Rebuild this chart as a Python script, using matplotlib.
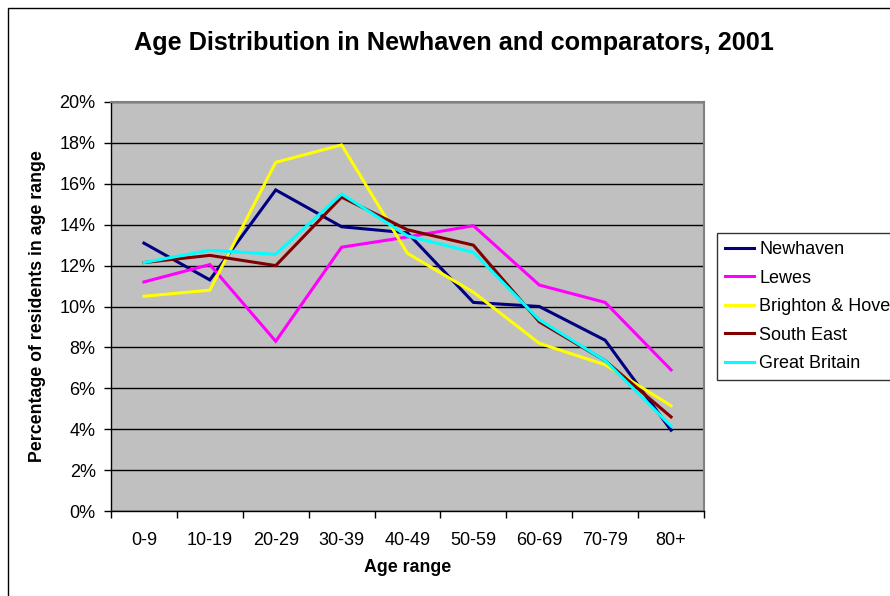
import matplotlib
matplotlib.use("Agg")
import matplotlib.pyplot as plt
from matplotlib.patches import Rectangle
from matplotlib.ticker import FuncFormatter, FixedLocator

plt.rcParams['font.family'] = ['Liberation Sans', 'DejaVu Sans']

age_ranges = ["0-9", "10-19", "20-29", "30-39", "40-49", "50-59", "60-69", "70-79", "80+"]

newhaven = [13.1, 11.3, 15.7, 13.9, 13.6, 10.2, 10.0, 8.35, 3.95]
lewes = [11.2, 12.05, 8.3, 12.9, 13.4, 13.95, 11.05, 10.2, 6.9]
brighton_hove = [10.5, 10.8, 17.05, 17.9, 12.6, 10.7, 8.2, 7.15, 5.15]
south_east = [12.15, 12.5, 12.0, 15.35, 13.75, 13.0, 9.25, 7.35, 4.6]
great_britain = [12.15, 12.75, 12.55, 15.5, 13.45, 12.65, 9.35, 7.35, 4.15]

series = [
    ("Newhaven", newhaven, "#000080"),
    ("Lewes", lewes, "#FF00FF"),
    ("Brighton & Hove", brighton_hove, "#FFFF00"),
    ("South East", south_east, "#800000"),
    ("Great Britain", great_britain, "#00FFFF"),
]

W, H = 890, 596
fig = plt.figure(figsize=(W / 100, H / 100), dpi=100)
fig.patch.set_facecolor("white")

# outer chart frame
fig.patches.append(Rectangle((7.5 / W, -0.1), 1.2, 1.1 - 7.5 / H,
                             transform=fig.transFigure, fill=False,
                             edgecolor="black", linewidth=1.0))

ax = fig.add_axes([111 / W, 1 - 511 / H, (704 - 111) / W, (511 - 102) / H])
ax.set_facecolor("#C0C0C0")

x = list(range(len(age_ranges)))
for name, vals, col in series:
    ax.plot(x, vals, color=col, linewidth=2.2, label=name, solid_joinstyle="miter")

ax.set_xlim(-0.5, len(age_ranges) - 0.5)
ax.set_ylim(0, 20)
ax.yaxis.set_major_locator(FixedLocator(list(range(0, 21, 2))))
ax.yaxis.set_major_formatter(FuncFormatter(lambda v, p: f"{int(v)}%"))
ax.grid(axis="y", color="black", linewidth=1.0)
ax.set_axisbelow(True)

ax.set_xticks(x)
ax.set_xticklabels(age_ranges)
ax.set_xticks([i - 0.5 for i in range(len(age_ranges) + 1)], minor=True)
ax.tick_params(axis="x", which="major", length=0, pad=15, labelsize=13)
ax.tick_params(axis="x", which="minor", length=5, width=1, direction="out")
ax.tick_params(axis="y", length=5, width=1, direction="out", pad=6, labelsize=13)

for side in ("top", "right"):
    ax.spines[side].set_color("#808080")
    ax.spines[side].set_linewidth(1.5)
for side in ("left", "bottom"):
    ax.spines[side].set_color("black")
    ax.spines[side].set_linewidth(1.0)

ax.set_xlabel("Age range", fontsize=12.8, fontweight="bold", labelpad=7)
ax.set_ylabel("Percentage of residents in age range", fontsize=12.8,
              fontweight="bold", labelpad=10)

fig.text(454 / W, 1 - 43 / H, "Age Distribution in Newhaven and comparators, 2001",
         ha="center", va="center", fontsize=18.2, fontweight="bold")

leg = fig.legend(loc="upper left", bbox_to_anchor=(717 / W, 1 - 233 / H),
                 borderaxespad=0, fontsize=13, frameon=True, fancybox=False,
                 borderpad=0.45, handlelength=1.6, handletextpad=0.3,
                 labelspacing=0.64)
leg.get_frame().set_edgecolor("black")
leg.get_frame().set_linewidth(1.0)

fig.savefig("out.png", dpi=100)
